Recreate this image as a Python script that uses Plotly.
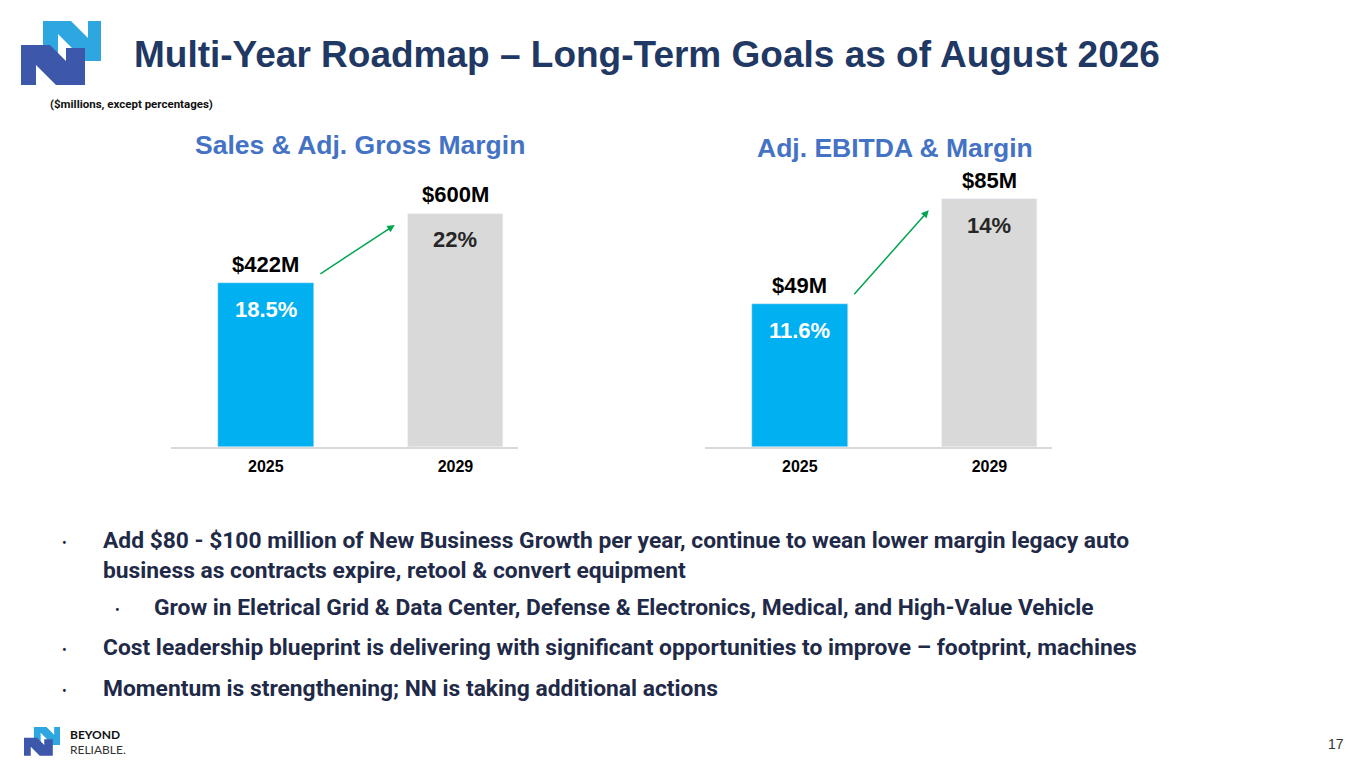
import plotly.graph_objects as go
from plotly.subplots import make_subplots

# chart data
years = ["2025", "2029"]
sales = [422, 600]
gross_margin = ["18.5%", "22%"]
ebitda = [49, 85]
ebitda_margin = ["11.6%", "14%"]

title = "Multi-Year Roadmap \u2013 Long-Term Goals as of August 2026"
note = "($millions, except percentages)"
chart_titles = ["Sales & Adj. Gross Margin", "Adj. EBITDA & Margin"]
bullets = [
    (0, "Add $80 - $100 million of New Business Growth per year, continue to wean lower margin legacy auto<br>business as contracts expire, retool & convert equipment"),
    (1, "Grow in Eletrical Grid & Data Center, Defense & Electronics, Medical, and High-Value Vehicle"),
    (0, "Cost leadership blueprint is delivering with significant opportunities to improve \u2013 footprint, machines"),
    (0, "Momentum is strengthening; NN is taking additional actions"),
]
page_no = "17"

W, H = 1365, 768
BLUE = "#00b0f0"
GREY = "#d9d9d9"
NAVY = "#1f3864"
TEXT = "#1f2a48"
SUB = "#4472c4"
GREEN = "#00a550"


def px(x):
    return x / W


def py(y):
    return 1 - y / H


fig = make_subplots(rows=1, cols=2)

panels = [
    (1, sales, gross_margin, 713),
    (2, ebitda, ebitda_margin, 95),
]

for col, vals, margins, ymax in panels:
    fig.add_trace(go.Bar(x=years, y=vals, marker_color=[BLUE, GREY],
                         width=0.505, showlegend=False, hoverinfo="skip"),
                  row=1, col=col)
    xr = "x" if col == 1 else "x2"
    yr = "y" if col == 1 else "y2"
    for i, (v, m) in enumerate(zip(vals, margins)):
        fig.add_annotation(x=i, y=v, xref=xr, yref=yr, text="$%dM" % v,
                           showarrow=False, yanchor="middle", yshift=19,
                           font=dict(family="Liberation Sans", size=22,
                                     color="#000000", weight="bold"))
        fig.add_annotation(x=i, y=v, xref=xr, yref=yr, text=m,
                           showarrow=False, yanchor="middle", yshift=-26,
                           font=dict(family="Liberation Sans", size=22,
                                     color="#ffffff" if i == 0 else "#262626",
                                     weight="bold"))
    # growth arrow
    fig.add_annotation(x=0.68, y=vals[1] - 0.04 * ymax, ax=0.28,
                       ay=vals[0] + 0.03 * ymax, xref=xr, yref=yr,
                       axref=xr, ayref=yr, text="", showarrow=True,
                       arrowhead=2, arrowsize=1, arrowwidth=1.5,
                       arrowcolor=GREEN)
    fig.update_yaxes(range=[0, ymax], visible=False, row=1, col=col)
    fig.update_xaxes(type="category", range=[-0.5, 1.33], showline=True,
                     linecolor=GREY, linewidth=1.5, showgrid=False, ticks="",
                     ticklabelstandoff=4,
                     tickfont=dict(family="Liberation Sans", size=16,
                                   color="#000000", weight="bold"),
                     row=1, col=col)

fig.update_layout(
    xaxis=dict(domain=[px(171), px(518)]),
    xaxis2=dict(domain=[px(705), px(1052)]),
    yaxis=dict(domain=[py(447), py(170)]),
    yaxis2=dict(domain=[py(447), py(170)]),
)

# chart headings
for cx, cy, t in [(360, 145, chart_titles[0]), (895, 148, chart_titles[1])]:
    fig.add_annotation(x=px(cx), y=py(cy), xref="paper", yref="paper", text=t,
                       showarrow=False, xanchor="center", yanchor="middle",
                       font=dict(family="Liberation Sans", size=26.5, color=SUB,
                                 weight="bold"))

# slide title and note
fig.add_annotation(x=px(132), y=py(54), xref="paper", yref="paper", text=title,
                   showarrow=False, xanchor="left", yanchor="middle",
                   font=dict(family="Liberation Sans", size=37, color=NAVY,
                             weight="bold"))
fig.add_annotation(x=px(48), y=py(104), xref="paper", yref="paper", text=note,
                   showarrow=False, xanchor="left", yanchor="middle",
                   font=dict(family="Roboto", size=11.5, color="#111111",
                             weight="bold"))

# bullet list
line_y = [540, 607, 647, 688]
for (lvl, txt), y0 in zip(bullets, line_y):
    bx = 64 if lvl == 0 else 117
    tx = 101 if lvl == 0 else 152
    fig.add_annotation(x=px(bx), y=py(y0 + 3), xref="paper", yref="paper", text="\u2022",
                       showarrow=False, xanchor="center", yanchor="middle",
                       font=dict(family="Roboto", size=14, color=TEXT))
    fig.add_annotation(x=px(tx), y=py(y0 - 15), xref="paper", yref="paper", text=txt,
                       showarrow=False, xanchor="left", yanchor="top", align="left",
                       font=dict(family="Roboto", size=22.8, color=TEXT, weight="bold"))

fig.add_annotation(x=px(1346), y=py(744), xref="paper", yref="paper", text=page_no,
                   showarrow=False, xanchor="right", yanchor="middle",
                   font=dict(family="Liberation Sans", size=14, color="#333333"))


# NN logo: two slanted N polygons, drawn in local pixel units
def n_points(x0, y0, x1, y1, a, wl, wr, b, d):
    return [(x0, y1), (x0, y0), (x0 + a, y0),
            (x1 - wr, y0 + (x1 - wr - x0 - a)), (x1 - wr, y0 + d), (x1, y0 + d),
            (x1, y1), (x1 - wr - b, y1),
            (x0 + wl, y1 - (x1 - wr - b - x0 - wl)), (x0 + wl, y1)]


def add_logo(ox, oy, s):
    parts = [
        ("#2ea6df", n_points(22, 0, 80, 40, 28, 15, 13, 3, 0)),
        ("#3d57ab", n_points(0, 24, 64, 64, 29, 15, 19, 10, 3)),
    ]
    for color, pts in parts:
        path = "M " + " L ".join("%.5f,%.5f" % (px(ox + x * s), py(oy + y * s))
                                 for x, y in pts) + " Z"
        fig.add_shape(type="path", xref="paper", yref="paper", line_width=0,
                      fillcolor=color, path=path)


add_logo(21, 21, 1.0)
add_logo(24, 727, 0.45)

fig.add_annotation(x=px(68), y=py(734), xref="paper", yref="paper", text="BEYOND",
                   showarrow=False, xanchor="left", yanchor="middle",
                   font=dict(family="Lato", size=12, color="#111111", weight="bold"))
fig.add_annotation(x=px(68), y=py(749), xref="paper", yref="paper", text="RELIABLE.",
                   showarrow=False, xanchor="left", yanchor="middle",
                   font=dict(family="Lato", size=12, color="#333333"))

fig.update_layout(width=W, height=H, margin=dict(l=0, r=0, t=0, b=0),
                  paper_bgcolor="white", plot_bgcolor="white", bargap=0)

fig.write_html("out.html", config={"displayModeBar": False},
               post_script="document.body.style.margin='0';")
